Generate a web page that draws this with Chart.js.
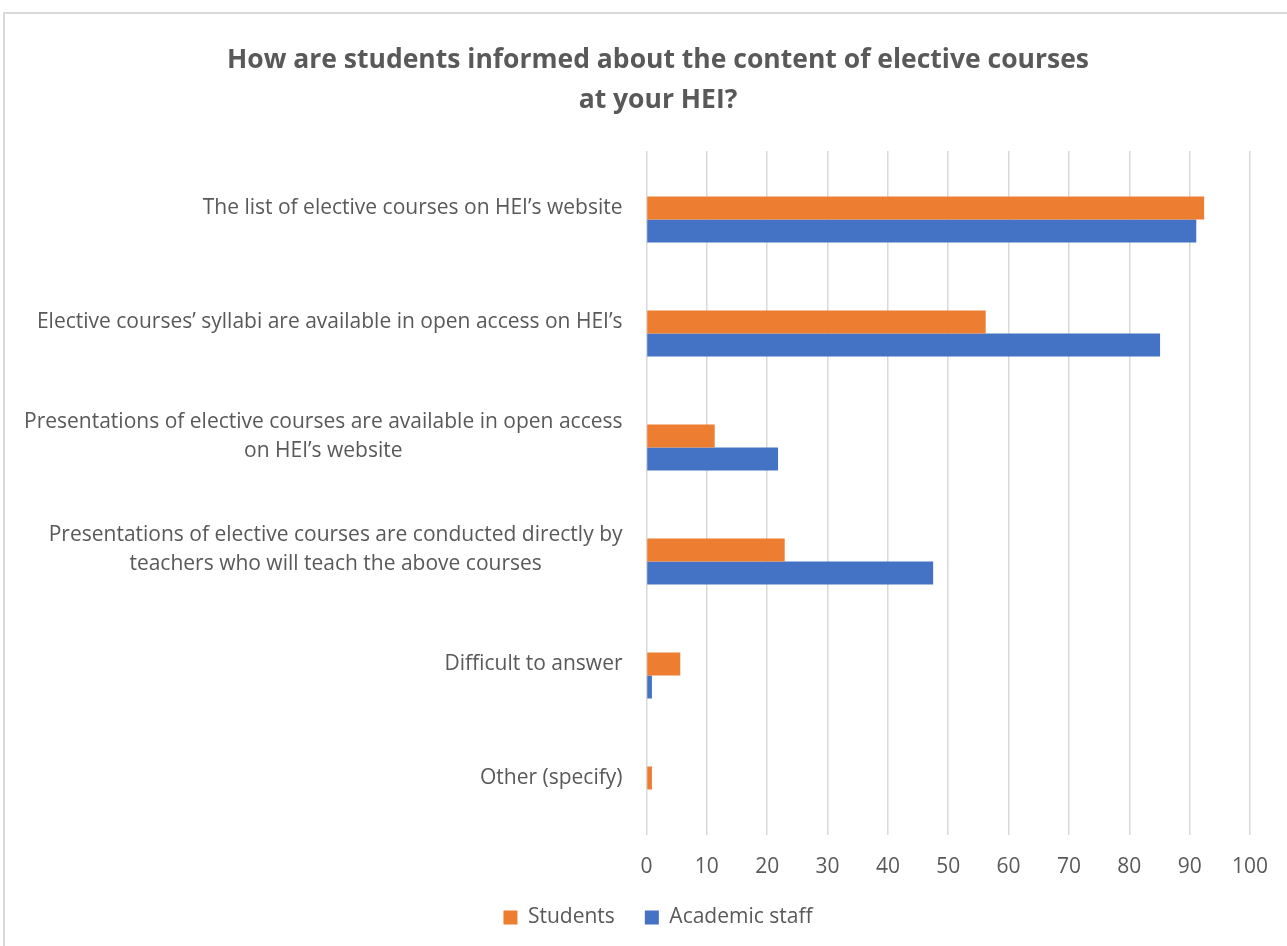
<!DOCTYPE html>
<html>
<head>
<meta charset="utf-8">
<script src="https://cdn.jsdelivr.net/npm/chart.js@4/dist/chart.umd.min.js"></script>
<style>
    body { margin: 0; background: #fff; }
    #wrap { position: relative; width: 1287px; height: 946px; }
    #frame {
        position: absolute; left: 3px; top: 12px; width: 1290px; height: 940px;
        border: 2px solid #d9d9d9; pointer-events: none;
    }
</style>
</head>
<body>
<div id="wrap">
    <canvas id="chart-courses" width="1287" height="946"></canvas>
    <div id="frame"></div>
</div>
<script>
const categories = [
    "The list of elective courses on HEI’s website",
    "Elective courses’ syllabi are available in open access on HEI’s",
    ["Presentations of elective courses are available in open access", "on HEI’s website"],
    ["Presentations of elective courses are conducted directly by", "teachers who will teach the above courses"],
    "Difficult to answer",
    "Other (specify)",
];
const students = [92.4, 56.2, 11.3, 22.9, 5.6, 0.9];
const academicStaff = [91.1, 85.1, 21.8, 47.5, 0.9, 0];
const xTicks = [0, 10, 20, 30, 40, 50, 60, 70, 80, 90, 100];

const textColor = "#595959";
const fontFamily = "'Open Sans', sans-serif";
const labelSize = 21;

// category labels: each block right-aligned to the axis, its lines centred
const categoryLabels = {
    id: "categoryLabels",
    afterDraw(chart) {
        const { ctx, scales } = chart;
        const y = scales.y;
        const right = chart.chartArea.left - 24;
        const lineH = 29;
        ctx.save();
        ctx.font = labelSize + "px " + fontFamily;
        ctx.fillStyle = textColor;
        ctx.textAlign = "center";
        ctx.textBaseline = "middle";
        categories.forEach((label, i) => {
            const lines = Array.isArray(label) ? label : [label];
            const maxW = Math.max(...lines.map((l) => ctx.measureText(l).width));
            const cx = right - maxW / 2;
            const cy = y.getPixelForValue(i);
            lines.forEach((l, k) => {
                ctx.fillText(l, cx, cy + (k - (lines.length - 1) / 2) * lineH);
            });
        });
        ctx.restore();
    },
};

const ctx = document.getElementById("chart-courses").getContext("2d");

new Chart(ctx, {
    type: "bar",
    data: {
        labels: categories,
        datasets: [
            {
                // empty slot above the pair, as in the original layout
                label: "",
                data: [],
                backgroundColor: "rgba(0,0,0,0)",
                categoryPercentage: 0.607,
                barPercentage: 1,
            },
            {
                label: "Students",
                data: students,
                backgroundColor: "#ED7D31",
                categoryPercentage: 0.607,
                barPercentage: 1,
            },
            {
                label: "Academic staff",
                data: academicStaff,
                backgroundColor: "#4472C4",
                categoryPercentage: 0.607,
                barPercentage: 1,
            },
        ],
    },
    options: {
        indexAxis: "y",
        responsive: false,
        animation: false,
        layout: {
            padding: { top: 20, left: 65, right: 36, bottom: 8 },
        },
        scales: {
            x: {
                min: 0,
                max: 100,
                afterBuildTicks: (scale) => {
                    scale.ticks = xTicks.map((v) => ({ value: v }));
                },
                afterFit: (scale) => {
                    scale.height = 42;
                },
                grid: { color: "#d9d9d9", lineWidth: 1.5, drawTicks: false },
                border: { display: false },
                ticks: {
                    color: textColor,
                    padding: 19,
                    font: { family: fontFamily, size: 21 },
                },
            },
            y: {
                grid: { display: false },
                border: { display: false },
                afterFit: (scale) => {
                    scale.width = 581.5;
                },
                ticks: { display: false },
            },
        },
        plugins: {
            title: {
                display: true,
                text: [
                    "How are students informed about the content of elective courses",
                    "at your HEI?",
                ],
                color: textColor,
                font: { family: fontFamily, size: 26.5, weight: "bold", lineHeight: 1.51 },
                padding: { top: 20, bottom: 31 },
            },
            legend: {
                position: "bottom",
                labels: {
                    color: textColor,
                    boxWidth: 14,
                    boxHeight: 14,
                    padding: 30,
                    font: { family: fontFamily, size: 21 },
                    filter: (item) => item.text !== "",
                },
            },
            tooltip: { enabled: false },
        },
    },
    plugins: [categoryLabels],
});
</script>
</body>
</html>
